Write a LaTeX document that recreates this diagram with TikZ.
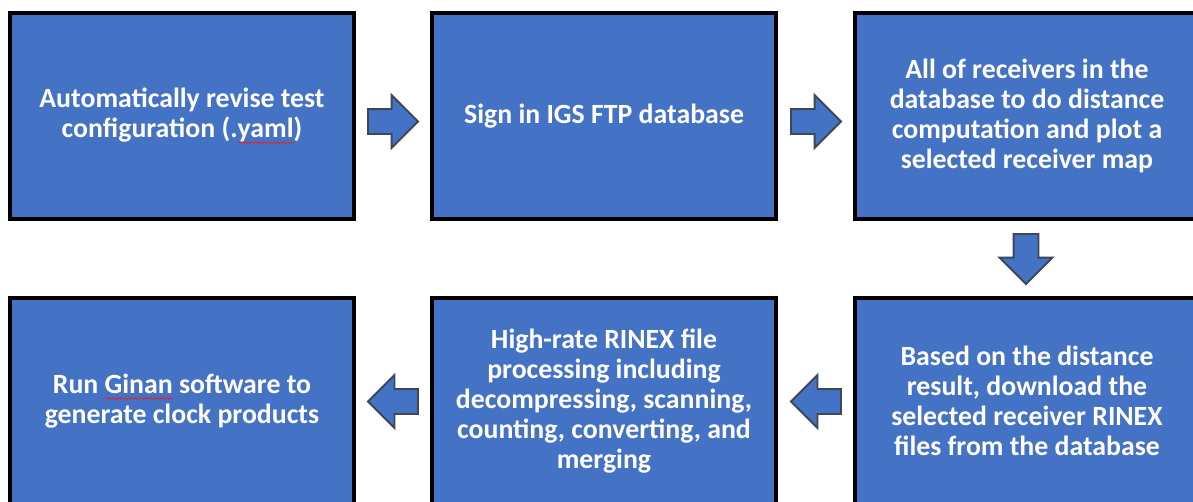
\documentclass[tikz,border=0pt]{standalone}
\usepackage{fontspec}
\setmainfont{Carlito}
\usetikzlibrary{shapes.arrows,decorations.pathmorphing,calc}
\definecolor{boxblue}{HTML}{4472C4}
\definecolor{arrowedge}{HTML}{3E4756}
\definecolor{spellred}{HTML}{D8262B}

% word with a wavy red underline
\newsavebox\flagbox
\newlength\flagwd
\newcommand\flagged[1]{\sbox\flagbox{#1}\setlength\flagwd{\wd\flagbox}%
  \rlap{\tikz[baseline=0pt]\draw[spellred,line width=0.7pt,decorate,
    decoration={snake,amplitude=0.9pt,segment length=3.2pt}]
    (0pt,-5pt) -- (\flagwd,-5pt);}\usebox\flagbox}

\tikzset{
  stepbox/.style={draw=black, line width=4pt, fill=boxblue,
    minimum width=344pt, minimum height=206pt, inner sep=0pt,
    text=white, align=center,
    font=\bfseries\fontsize{27.8}{30}\selectfont},
  blockarrow/.style={single arrow, draw=arrowedge, fill=boxblue,
    line width=1.8pt, line join=miter, minimum height=50pt,
    inner sep=11.5pt, single arrow head extend=14pt,
    single arrow tip angle=90, outer sep=0pt, anchor=tail}
}

\begin{document}
\begin{tikzpicture}[x=1pt,y=-1pt]
  \useasboundingbox (0,0) rectangle (1193,501);
  \clip (0,0) rectangle (1193,501);
  \fill[white] (0,0) rectangle (1193,501);

  % process steps
  \node[stepbox] (b1) at (182,116)
    {Automatically revise test\\configuration (.\flagged{yaml})};
  \node[stepbox] (b2) at (604,116) {Sign in IGS FTP database};
  \node[stepbox] (b3) at (1027,116)
    {All of receivers in the\\database to do distance\\computation and plot a\\selected receiver map};
  \node[stepbox] (b6) at (1027,401)
    {Based on the distance\\result, download the\\selected receiver RINEX\\files from the database};
  \node[stepbox] (b5) at (604,401)
    {High-rate RINEX file\\processing including\\decompressing, scanning,\\counting, converting, and\\merging};
  \node[stepbox] (b4) at (182,401)
    {Run \flagged{Ginan} software to\\generate clock products};

  % flow arrows
  \node[blockarrow] (a12) at ($(b1.east)+(12,5.5)$) {};
  \node[blockarrow] (a23) at ($(b2.east)+(13,5.5)$) {};
  \node[blockarrow, shape border rotate=270] (a36) at ($(b3.south)+(-1,13)$) {};
  \node[blockarrow, shape border rotate=180] (a65) at ($(b6.west)+(-12,0.5)$) {};
  \node[blockarrow, shape border rotate=180] (a54) at ($(b5.west)+(-12,0.5)$) {};
\end{tikzpicture}
\end{document}
